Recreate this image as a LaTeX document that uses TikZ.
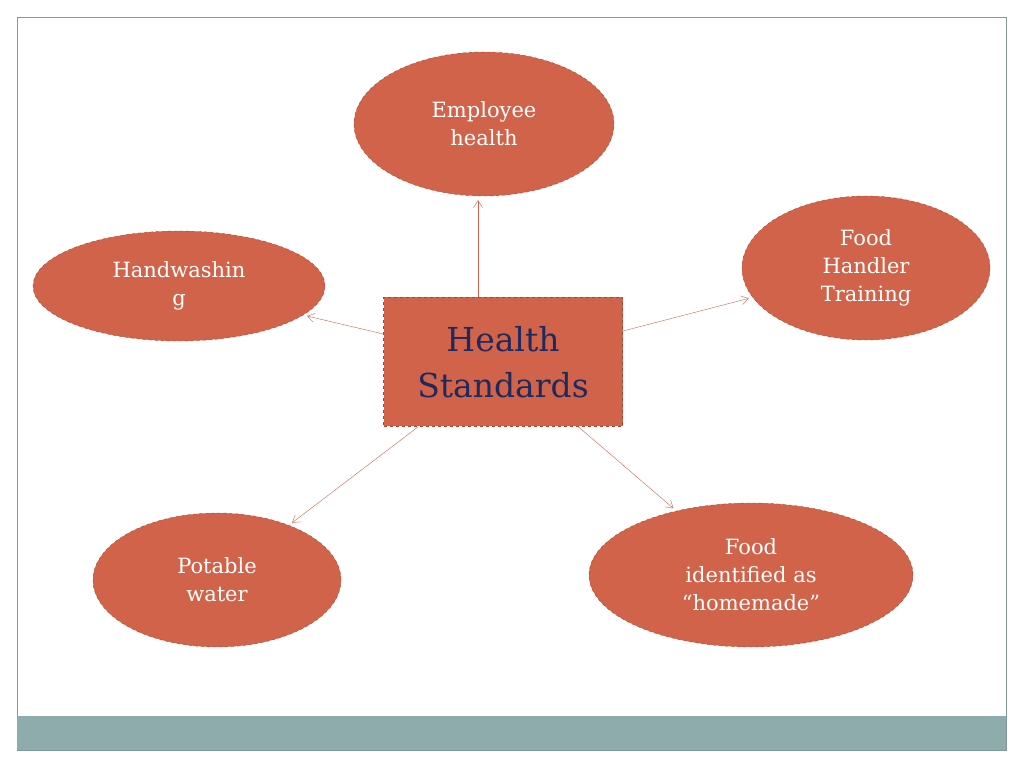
\documentclass[tikz,border=0pt]{standalone}
\usepackage{fontspec}
\setmainfont{DejaVu Serif}
\usetikzlibrary{arrows.meta, shapes.geometric}
\definecolor{brick}{HTML}{D0634A}
\definecolor{brickline}{HTML}{A8452F}
\definecolor{navy}{HTML}{1F2A5C}
\definecolor{teal}{HTML}{8EACAC}

\tikzset{
  topic/.style={ellipse, draw=brickline, dashed, fill=brick, text=white,
    align=center, font=\fontsize{21}{28}\selectfont, inner sep=0pt},
  link/.style={draw=brick, -{Straight Barb[length=7pt,width=9pt]}, shorten >=4pt},
}

\begin{document}
\begin{tikzpicture}[x=1pt,y=1pt]
\useasboundingbox (0,0) rectangle (1024,768);
%frame
\draw[teal!90!black, line width=0.8pt] (17,18) rectangle (1006,751);
\fill[teal] (17,18) rectangle (1006,52);

%center
\node[draw=brickline, dashed, fill=brick, text=navy, align=center,
  minimum width=239pt, minimum height=129pt,
  font=\fontsize{33}{46}\selectfont] (hs) at (503,406) {Health\\Standards};

%topics
\node[topic, minimum width=260pt, minimum height=144pt] (emp) at (484,644) {Employee\\health};
\node[topic, minimum width=248pt, minimum height=144pt] (train) at (866,500) {Food\\Handler\\Training};
\node[topic, minimum width=292pt, minimum height=110pt] (hand) at (179,482) {Handwashin\\g};
\node[topic, minimum width=248pt, minimum height=134pt] (water) at (217,188) {Potable\\water};
\node[topic, minimum width=324pt, minimum height=144pt] (home) at (751,193) {Food\\identified as\\“homemade”};

%links
\draw[link] (hs.north -| 478,0) -- (emp.south -| 478,0);
\draw[link] (hs) -- (train);
\draw[link] (hs) -- (hand);
\draw[link] (hs) -- (water);
\draw[link] (hs) -- (home);
\end{tikzpicture}
\end{document}
